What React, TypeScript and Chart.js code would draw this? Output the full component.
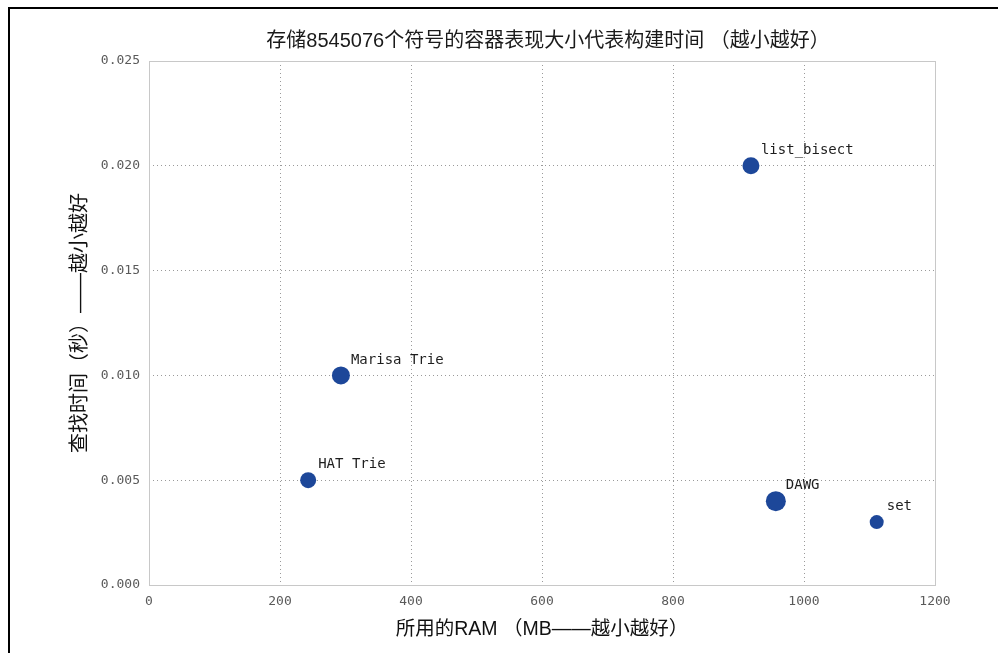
import React, { useEffect, useRef } from "react";
import { Chart, registerables } from "chart.js";

Chart.register(...registerables);

const names = ["HAT Trie", "Marisa Trie", "list_bisect", "DAWG", "set"];
const ramMB = [243, 293, 919, 957, 1111];
const lookupSec = [0.005, 0.01, 0.02, 0.004, 0.003];
const markerRadius = [8, 9, 8.5, 10, 7];

const xTicks = [0, 200, 400, 600, 800, 1000, 1200];
const yTicks = [0, 0.005, 0.01, 0.015, 0.02, 0.025];

const titleText = "存储8545076个符号的容器表现大小代表构建时间 （越小越好）";
const xTitle = "所用的RAM （MB——越小越好）";
const yTitle = "查找时间（秒）——越小越好";

const CJK = "'Liberation Sans', 'Noto Sans CJK SC', sans-serif";
const MONO = "'DejaVu Sans Mono', monospace";
const DOT = "#1d4799";

export default function App() {
  const ref = useRef<HTMLCanvasElement | null>(null);

  useEffect(() => {
    const canvas = ref.current;
    if (!canvas) return;

    const decor = {
      id: "decor",
      beforeDraw(chart: any) {
        const { ctx, width, height } = chart;
        ctx.save();
        ctx.fillStyle = "#ffffff";
        ctx.fillRect(0, 0, width, height);
        ctx.fillStyle = "#000000";
        ctx.fillRect(9, 7, width - 9, 2);
        ctx.fillRect(8, 7, 2, height - 7);
        ctx.restore();
      },
      beforeDatasetsDraw(chart: any) {
        const { ctx, chartArea } = chart;
        ctx.save();
        ctx.strokeStyle = "#c8c8c8";
        ctx.lineWidth = 1;
        ctx.setLineDash([]);
        ctx.strokeRect(
          Math.round(chartArea.left) + 0.5,
          Math.round(chartArea.top) + 0.5,
          Math.round(chartArea.right - chartArea.left),
          Math.round(chartArea.bottom - chartArea.top)
        );
        ctx.restore();
      },
      afterDraw(chart: any) {
        const { ctx, chartArea } = chart;
        ctx.save();
        ctx.fillStyle = "#1a1a1a";
        ctx.font = `20px ${CJK}`;
        ctx.textAlign = "center";
        ctx.textBaseline = "middle";
        ctx.fillText(titleText, (chartArea.left + chartArea.right) / 2 + 6, 41);

        const meta = chart.getDatasetMeta(0);
        ctx.font = `14px ${MONO}`;
        ctx.fillStyle = "#1e1e1e";
        ctx.textAlign = "left";
        ctx.textBaseline = "middle";
        meta.data.forEach((pt: any, i: number) => {
          ctx.fillText(names[i], pt.x + 10, pt.y - 15.5);
        });
        ctx.restore();
      },
    };

    const chart = new Chart(canvas, {
      type: "scatter",
      data: {
        datasets: [
          {
            data: ramMB.map((x, i) => ({ x, y: lookupSec[i] })),
            backgroundColor: DOT,
            borderColor: DOT,
            borderWidth: 0,
            pointRadius: markerRadius,
            pointHoverRadius: markerRadius,
          },
        ],
      },
      options: {
        responsive: false,
        animation: false,
        devicePixelRatio: 1,
        layout: { padding: { top: 61, right: 63, left: 0, bottom: 0 } },
        plugins: {
          legend: { display: false },
          title: { display: false },
          tooltip: { enabled: false },
        },
        scales: {
          x: {
            type: "linear",
            min: 0,
            max: 1200,
            afterBuildTicks: (scale: any) => {
              scale.ticks = xTicks.map((v) => ({ value: v }));
            },
            afterFit: (scale: any) => {
              scale.height = 68;
            },
            ticks: {
              font: { family: MONO, size: 13 },
              color: "#5a5a5a",
              padding: 9,
              maxRotation: 0,
              callback: (v: any) => String(v),
            },
            grid: {
              color: "#9a9a9a",
              lineWidth: 1,
              drawTicks: false,
            },
            border: { display: false, dash: [1, 3] },
            title: {
              display: true,
              text: xTitle,
              color: "#111111",
              font: { family: CJK, size: 19.5 },
              padding: { top: 0, bottom: 12 },
            },
          },
          y: {
            type: "linear",
            min: 0,
            max: 0.025,
            afterBuildTicks: (scale: any) => {
              scale.ticks = yTicks.map((v) => ({ value: v }));
            },
            afterFit: (scale: any) => {
              scale.width = 149;
            },
            ticks: {
              font: { family: MONO, size: 13 },
              color: "#5a5a5a",
              padding: 9,
              callback: (v: any) => Number(v).toFixed(3),
            },
            grid: {
              color: "#9a9a9a",
              lineWidth: 1,
              drawTicks: false,
            },
            border: { display: false, dash: [1, 3] },
            title: {
              display: true,
              text: yTitle,
              color: "#111111",
              font: { family: CJK, size: 20 },
              padding: { top: 68, bottom: 0 },
            },
          },
        },
      },
      plugins: [decor],
    } as any);

    return () => chart.destroy();
  }, []);

  return (
    <div style={{ position: "fixed", left: 0, top: 0, width: 998, height: 653, background: "#fff" }}>
      <canvas ref={ref} width={998} height={653} style={{ display: "block", width: 998, height: 653 }} />
    </div>
  );
}
